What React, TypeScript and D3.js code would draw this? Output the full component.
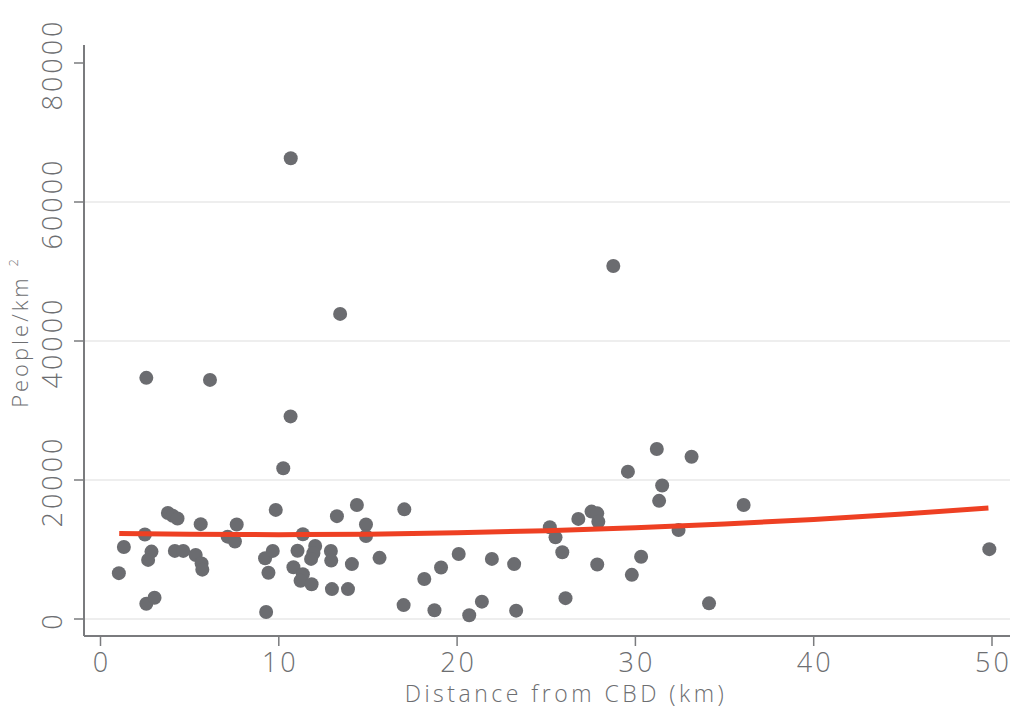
import React from 'react';
import * as d3 from 'd3';

// distance from CBD (km) and density (people/km2) for each area
const distanceKm = [
  1.03, 1.31, 2.49, 2.86, 2.67, 2.57, 3.03, 3.78, 4.05, 4.32, 5.62, 4.17, 4.64, 5.34, 5.67, 5.71,
  7.64, 7.13, 7.54, 9.83, 9.23, 9.66, 9.42, 9.29, 11.35, 11.05, 12.04, 11.94, 11.81, 10.82, 11.35,
  11.22, 11.84, 13.26, 14.38, 14.89, 14.89, 12.92, 12.94, 14.1, 12.98, 13.88, 15.65, 17.04, 17.0,
  18.16, 19.1, 18.73, 20.09, 20.68, 21.39, 21.95, 23.2, 23.31, 26.08, 25.2, 25.52, 25.9, 26.8,
  27.54, 27.86, 27.92, 27.86, 29.58, 29.8, 30.32, 31.2, 31.5, 31.33, 33.15, 32.42, 34.13, 36.07,
  49.85, 10.67, 28.76, 13.44, 2.57, 6.14, 10.66, 10.25,
];
const density = [
  6600, 10350, 12150, 9700, 8500, 2200, 3050, 15250, 14850, 14450, 13650, 9800, 9800, 9200, 8000, 7100,
  13600, 11850, 11150, 15700, 8750, 9800, 6650, 1000, 12200, 9830, 10500, 9450, 8650, 7450, 6450,
  5500, 5000, 14800, 16400, 13600, 11950, 9780, 8400, 7900, 4300, 4300, 8800, 15780, 2000,
  5750, 7400, 1250, 9350, 550, 2500, 8650, 7900, 1200, 3000, 13200, 11750, 9600, 14400,
  15450, 15200, 14000, 7850, 21200, 6350, 8950, 24450, 19200, 17000, 23350, 12800, 2250, 16400,
  10050, 66300, 50800, 43900, 34700, 34400, 29150, 21700,
];

// fitted trend
const fitKm = [1.05, 5, 10, 15, 20, 25, 30, 35, 40, 45, 49.8];
const fitDensity = [12300, 12180, 12140, 12210, 12400, 12710, 13130, 13670, 14330, 15100, 15960];

const xTicks = [0, 10, 20, 30, 40, 50];
const yTicks = [0, 20000, 40000, 60000, 80000];
const gridTicks = [0, 20000, 40000, 60000];

const W = 1017;
const H = 711;
const textColor = '#6d6e71';
const axisColor = '#7a7b7e';
const font = "'Open Sans', sans-serif";

export default function App() {
  const x = d3.scaleLinear().domain([0, 50]).range([100.5, 992]);
  const y = d3.scaleLinear().domain([0, 80000]).range([619, 63]);

  const axisLeft = 84;
  const axisRight = 1010;
  const axisBottom = 636;

  const points = distanceKm.map((d, i) => ({ d, v: density[i] }));
  const fit = fitKm.map((d, i) => ({ d, v: fitDensity[i] }));
  const linePath = d3
    .line<{ d: number; v: number }>()
    .x((p) => x(p.d))
    .y((p) => y(p.v))
    .curve(d3.curveMonotoneX)(fit);

  return (
    <svg width={W} height={H} style={{ position: 'absolute', left: 0, top: 0, background: '#fff' }}>
      {/* grid */}
      {gridTicks.map((t) => (
        <line key={'g' + t} x1={axisLeft} x2={axisRight} y1={y(t)} y2={y(t)} stroke="#eeeeee" strokeWidth={2} />
      ))}

      {/* axes */}
      <line x1={axisLeft} x2={axisLeft} y1={45} y2={axisBottom} stroke={axisColor} strokeWidth={2} />
      <line x1={axisLeft} x2={axisRight} y1={axisBottom} y2={axisBottom} stroke={axisColor} strokeWidth={2} />

      {yTicks.map((t) => (
        <g key={'y' + t}>
          <line x1={axisLeft - 10} x2={axisLeft} y1={y(t)} y2={y(t)} stroke={axisColor} strokeWidth={1.5} />
          <text
            transform={`translate(62,${y(t) + 1.5}) rotate(-90)`}
            textAnchor="middle"
            fontFamily={font}
            fontWeight={300}
            fontSize={27}
            letterSpacing={3}
            fill={textColor}
          >
            {t}
          </text>
        </g>
      ))}

      {xTicks.map((t) => (
        <g key={'x' + t}>
          <line x1={x(t)} x2={x(t)} y1={axisBottom} y2={axisBottom + 10} stroke={axisColor} strokeWidth={1.5} />
          <text
            x={x(t) + 1.5}
            y={672}
            textAnchor="middle"
            fontFamily={font}
            fontWeight={300}
            fontSize={27}
            letterSpacing={3}
            fill={textColor}
          >
            {t}
          </text>
        </g>
      ))}

      {/* axis titles */}
      <text
        x={566}
        y={702}
        textAnchor="middle"
        fontFamily={font}
        fontWeight={300}
        fontSize={23}
        letterSpacing={3.5}
        fill={textColor}
      >
        Distance from CBD (km)
      </text>
      <text
        transform="translate(28,332) rotate(-90)"
        textAnchor="middle"
        fontFamily={font}
        fontWeight={300}
        fontSize={22}
        letterSpacing={3}
        fill={textColor}
      >
        People/km <tspan fontSize={13} dy={-10}>2</tspan>
      </text>

      {/* points */}
      {points.map((p, i) => (
        <circle key={i} cx={x(p.d)} cy={y(p.v)} r={7} fill="#6b6c70" />
      ))}

      {/* fitted line */}
      <path d={linePath ?? ''} fill="none" stroke="#ee4023" strokeWidth={5} />
    </svg>
  );
}
